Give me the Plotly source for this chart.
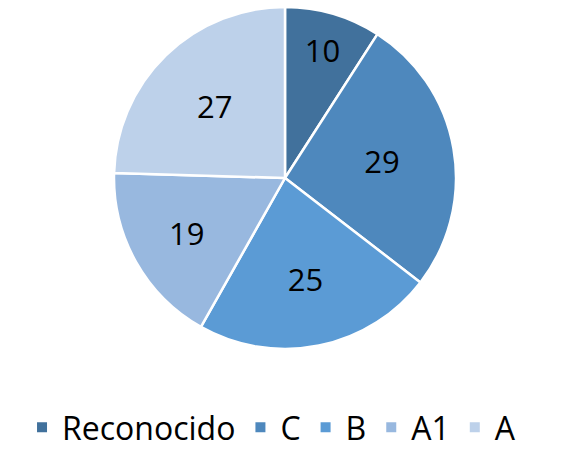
import plotly.graph_objects as go

labels = ["Reconocido", "C", "B", "A1", "A"]
values = [10, 29, 25, 19, 27]
colors = ["#41719C", "#4E88BD", "#5B9BD5", "#98B8DF", "#BDD1EA"]

W, H = 561, 455

fig = go.Figure(go.Pie(
    labels=labels, values=values, sort=False, direction="clockwise", rotation=0,
    domain=dict(x=[114 / W, 456 / W], y=[(H - 349) / H, (H - 7) / H]),
    marker=dict(colors=colors, line=dict(color="white", width=2.5)),
    textinfo="value", textposition="inside", insidetextorientation="horizontal",
    textfont=dict(size=31, color="black", family="Open Sans"),
))

fig.update_layout(
    width=W, height=H,
    # sin autoexpand: la leyenda no debe encoger la tarta
    margin=dict(l=0, r=0, t=0, b=0, autoexpand=False),
    paper_bgcolor="white", plot_bgcolor="white",
    font=dict(family="Open Sans", color="black"),
    showlegend=True,
    legend=dict(orientation="h", x=0.484, xanchor="center", y=0, yanchor="bottom",
                font=dict(size=32), itemsizing="constant", itemwidth=30,
                traceorder="normal"),
)
# quitar el margen por defecto del body para que la figura quede en (0, 0)
fig.write_html("out.html", config={"displayModeBar": False},
               post_script="document.body.style.margin='0';")
